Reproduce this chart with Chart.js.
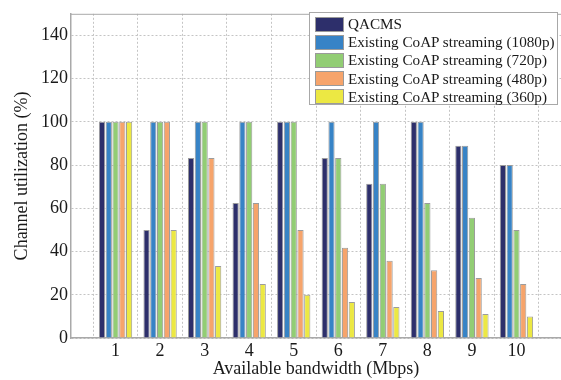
<!DOCTYPE html>
<html lang="en">
<head>
    <meta charset="UTF-8">
    <title>Channel utilization</title>
    <style>
        body {
            margin: 0;
            background: #fff;
        }

        #wrap {
            position: relative;
            width: 561px;
            height: 380px;
        }

        #legend {
            position: absolute;
            left: 309px;
            top: 12px;
            width: 249px;
            height: 93px;
            border: 1px solid #a8a8a8;
            background: #fff;
            font-family: "Liberation Serif", serif;
            font-size: 15.2px;
            color: #1a1a1a;
            box-sizing: border-box;
            padding-top: 2px;
            white-space: nowrap;
        }

        .item {
            display: flex;
            align-items: center;
            height: 18.2px;
        }

        .swatch {
            width: 27px;
            height: 13px;
            margin-left: 5px;
            margin-right: 4px;
            border: 1px solid #9a9a9a;
            flex: none;
        }
    </style>
    <script src="https://cdn.jsdelivr.net/npm/chart.js"></script>
</head>
<body>
    <div id="wrap">
        <canvas id="chart" width="561" height="380"></canvas>
        <div id="legend"></div>
    </div>

    <script>
        // data
        const bandwidth = [1, 2, 3, 4, 5, 6, 7, 8, 9, 10];
        const qacms = [100, 50, 83.3, 62.5, 100, 83.3, 71.4, 100, 88.9, 80];
        const coap1080 = [100, 100, 100, 100, 100, 100, 100, 100, 88.9, 80];
        const coap720 = [100, 100, 100, 100, 100, 83.3, 71.4, 62.5, 55.6, 50];
        const coap480 = [100, 100, 83.3, 62.5, 50, 41.7, 35.7, 31.3, 27.8, 25];
        const coap360 = [100, 50, 33.3, 25, 20, 16.7, 14.3, 12.5, 11.1, 10];
        const yTicks = [0, 20, 40, 60, 80, 100, 120, 140];

        const seriesNames = [
            'QACMS',
            'Existing CoAP streaming (1080p)',
            'Existing CoAP streaming (720p)',
            'Existing CoAP streaming (480p)',
            'Existing CoAP streaming (360p)'
        ];
        const seriesValues = [qacms, coap1080, coap720, coap480, coap360];
        const colors = ['#2d2f6b', '#3783c6', '#92cd74', '#f6a46b', '#ece843'];

        const serif = '"Liberation Serif", serif';
        const gridColor = '#c4c4c4';
        const axisColor = '#a9a9a9';

        const datasets = seriesValues.map((vals, i) => ({
            label: seriesNames[i],
            data: vals.map((v, j) => ({ x: bandwidth[j], y: v })),
            backgroundColor: colors[i],
            borderColor: '#9c9c9c',
            borderWidth: 1,
            borderSkipped: 'bottom',
            categoryPercentage: 0.76,
            barPercentage: 0.92
        }));

        // top edge of the axes box
        const boxTop = {
            id: 'boxTop',
            afterDraw(chart) {
                const { ctx, chartArea } = chart;
                ctx.save();
                ctx.strokeStyle = axisColor;
                ctx.lineWidth = 1;
                ctx.beginPath();
                ctx.moveTo(chartArea.left, chartArea.top + 0.5);
                ctx.lineTo(chartArea.right, chartArea.top + 0.5);
                ctx.stroke();
                ctx.restore();
            }
        };

        new Chart(document.getElementById('chart'), {
            type: 'bar',
            data: { datasets: datasets },
            options: {
                responsive: false,
                animation: false,
                layout: { padding: { top: 7, right: 0, left: 0, bottom: 0 } },
                plugins: {
                    legend: { display: false },
                    tooltip: { enabled: false }
                },
                scales: {
                    x: {
                        type: 'linear',
                        offset: false,
                        min: 0,
                        max: 11,
                        afterBuildTicks: scale => {
                            scale.ticks = bandwidth.map(v => ({ value: v }));
                        },
                        afterFit: scale => { scale.height = 42; },
                        ticks: {
                            autoSkip: false,
                            maxRotation: 0,
                            padding: 2,
                            color: '#1a1a1a',
                            font: { family: serif, size: 18 }
                        },
                        grid: {
                            color: gridColor,
                            drawTicks: false
                        },
                        border: { color: axisColor, width: 1.5, dash: [2, 2] },
                        title: {
                            display: true,
                            text: 'Available bandwidth (Mbps)',
                            color: '#1a1a1a',
                            font: { family: serif, size: 18 },
                            padding: { top: 0, bottom: 0 }
                        }
                    },
                    y: {
                        min: 0,
                        max: 150,
                        afterBuildTicks: scale => {
                            scale.ticks = yTicks.map(v => ({ value: v }));
                        },
                        afterFit: scale => { scale.width = 71; },
                        ticks: {
                            padding: 3,
                            color: '#1a1a1a',
                            font: { family: serif, size: 18 }
                        },
                        grid: {
                            color: gridColor,
                            drawTicks: false
                        },
                        border: { color: axisColor, width: 1.5, dash: [2, 2] },
                        title: {
                            display: true,
                            text: 'Channel utilization (%)',
                            color: '#1a1a1a',
                            font: { family: serif, size: 18 },
                            padding: { top: 11, bottom: 0 }
                        }
                    }
                }
            },
            plugins: [boxTop]
        });

        // legend drawn inside the axes, upper right
        const legend = document.getElementById('legend');
        seriesNames.forEach((name, i) => {
            const row = document.createElement('div');
            row.className = 'item';
            const sw = document.createElement('span');
            sw.className = 'swatch';
            sw.style.background = colors[i];
            const label = document.createElement('span');
            label.textContent = name;
            row.appendChild(sw);
            row.appendChild(label);
            legend.appendChild(row);
        });
    </script>
</body>
</html>
